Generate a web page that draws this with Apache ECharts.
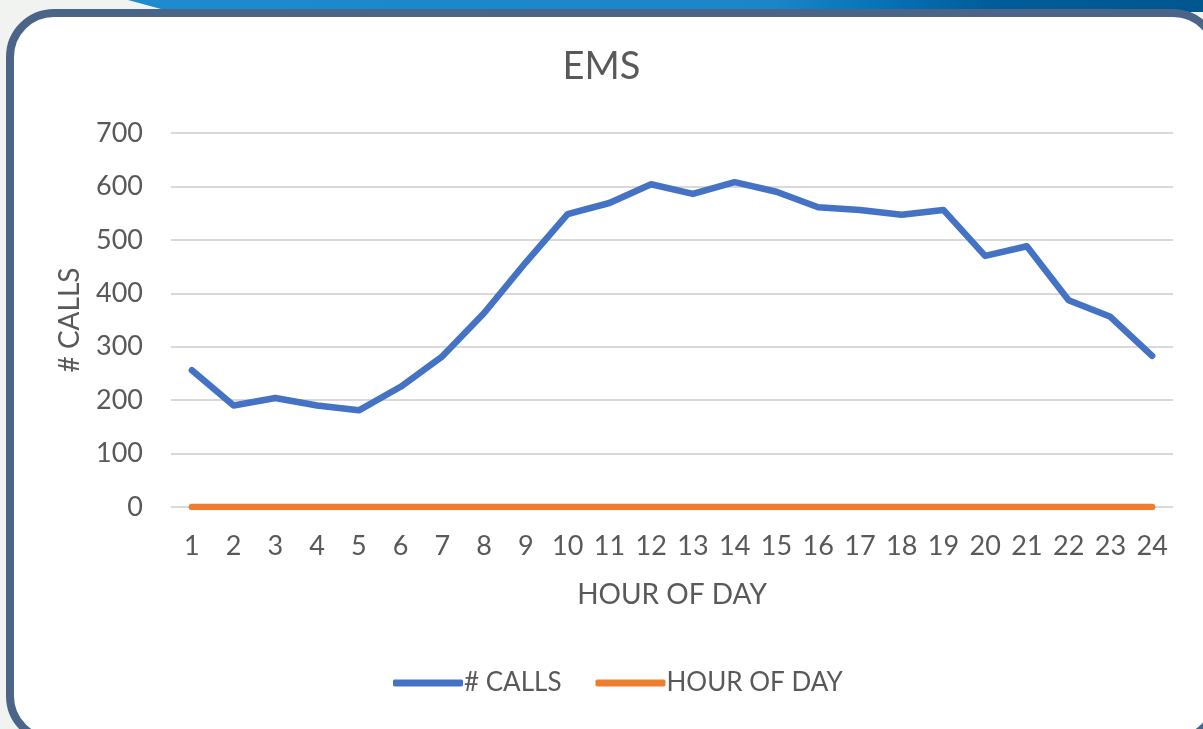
<!DOCTYPE html>
<html><head><meta charset="utf-8">
<script src="https://cdn.jsdelivr.net/npm/echarts@6/dist/echarts.min.js"></script>
<style>
html,body{margin:0;padding:0;width:1203px;height:729px;overflow:hidden;background:#f1f3f1;position:relative;}
#band{position:absolute;left:0;top:0;width:1203px;height:12px;}
#frame{position:absolute;left:6px;top:9px;width:1215px;height:735px;box-sizing:border-box;border:8px solid #4a6587;border-radius:48px;background:#fff;}
#chart{position:absolute;left:0;top:0;width:1203px;height:729px;}
</style></head>
<body>
<svg id="band" width="1203" height="12">
<defs><linearGradient id="g" x1="0" x2="1" y1="0" y2="0">
<stop offset="0" stop-color="#1e8ad0"/><stop offset="0.6" stop-color="#1a86c8"/><stop offset="0.7" stop-color="#0672b8"/><stop offset="0.8" stop-color="#005d9a"/><stop offset="1" stop-color="#00568f"/></linearGradient></defs>
<polygon points="128,0 1203,0 1203,12 172,12" fill="url(#g)"/>
</svg>
<div id="frame"></div>
<div id="chart"></div>
<script>
const hours = ['1','2','3','4','5','6','7','8','9','10','11','12','13','14','15','16','17','18','19','20','21','22','23','24'];
const calls = [256,190,204,190,181,225,282,363,458,548,569,604,586,608,590,561,556,547,556,470,488,387,356,283];
const hourOfDay = [0,0,0,0,0,0,0,0,0,0,0,0,0,0,0,0,0,0,0,0,0,0,0,0];
const yTicks = [0,100,200,300,400,500,600,700];

const chart = echarts.init(document.getElementById('chart'), null, {renderer:'canvas'});
const font = 'Lato, "Open Sans", sans-serif';
const grey = '#595959';
chart.setOption({
  backgroundColor:'transparent',
  animation:false,
  textStyle:{fontFamily:font},
  title:{text:'EMS',left:'center',top:43,textStyle:{fontFamily:font,fontSize:38,fontWeight:'normal',color:grey}},
  grid:{left:171,right:30,top:133,bottom:222},
  legend:{bottom:28,left:388,itemWidth:70,itemHeight:7,itemGap:34,
    icon:'roundRect',
    textStyle:{fontFamily:font,fontSize:26,color:grey,padding:[0,0,0,-4]},
    data:['# CALLS','HOUR OF DAY']},
  xAxis:{type:'category',data:hours,boundaryGap:true,
    name:'HOUR OF DAY',nameLocation:'middle',nameGap:74,
    nameTextStyle:{fontFamily:font,fontSize:28,color:grey},
    axisLine:{show:false},axisTick:{show:false},
    axisLabel:{fontFamily:font,fontSize:27,color:grey,margin:26}},
  yAxis:{type:'value',min:yTicks[0],max:yTicks[yTicks.length-1],interval:100,
    name:'# CALLS',nameLocation:'middle',nameGap:87,nameRotate:90,
    nameTextStyle:{fontFamily:font,fontSize:28,color:grey},
    axisLine:{show:false},axisTick:{show:false},
    axisLabel:{fontFamily:font,fontSize:27,color:grey,margin:28},
    splitLine:{lineStyle:{color:'#d9d9d9',width:2}}},
  series:[
    {name:'# CALLS',type:'line',data:calls,symbol:'none',
     itemStyle:{color:'#4472c4'},lineStyle:{color:'#4472c4',width:6.5,cap:'round',join:'round'}},
    {name:'HOUR OF DAY',type:'line',data:hourOfDay,symbol:'none',
     itemStyle:{color:'#ed7d31'},lineStyle:{color:'#ed7d31',width:6.5,cap:'round',join:'round'}}
  ]
});
</script>
</body></html>
